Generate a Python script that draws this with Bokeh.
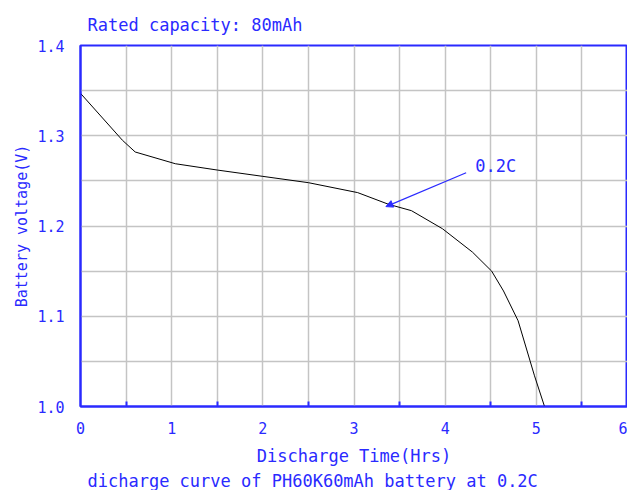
from bokeh.plotting import figure
from bokeh.models import Label, Arrow, NormalHead, FixedTicker, Range1d, Title, CustomJSTickFormatter
from bokeh.embed import file_html
from bokeh.resources import INLINE

hours = [0, 0.46, 0.6, 1.04, 1.5, 2.0, 2.5, 3.04, 3.38, 3.63, 3.97, 4.3, 4.51, 4.64, 4.8, 4.98, 5.09]
volts = [1.347, 1.295, 1.282, 1.269, 1.262, 1.255, 1.248, 1.237, 1.224, 1.217, 1.197, 1.171, 1.15, 1.128, 1.095, 1.034, 1.0]
x_ticks = [0, 1, 2, 3, 4, 5, 6]
x_minor = [0.5, 1.5, 2.5, 3.5, 4.5, 5.5]
y_ticks = [1.0, 1.1, 1.2, 1.3, 1.4]
y_minor = [1.05, 1.15, 1.25, 1.35]

BLUE = "#2a2aff"
FONT = "DejaVu Sans Mono"

p = figure(width=627, height=490, output_backend="svg", toolbar_location=None,
           x_range=Range1d(0, 6), y_range=Range1d(1.0, 1.4),
           min_border_left=80, min_border_right=0, min_border_top=45, min_border_bottom=84)

p.line(hours, volts, line_color="black", line_width=1)

p.xaxis[0].ticker = FixedTicker(ticks=x_ticks, minor_ticks=x_minor)
p.yaxis[0].ticker = FixedTicker(ticks=y_ticks, minor_ticks=y_minor)
for ax in (p.xaxis[0], p.yaxis[0]):
    ax.axis_line_color = BLUE
    ax.axis_line_width = 2
    ax.major_tick_line_color = None
    ax.major_label_text_color = BLUE
    ax.major_label_text_font = FONT
    ax.major_label_text_font_size = "15px"
    ax.axis_label_text_color = BLUE
    ax.axis_label_text_font = FONT
    ax.axis_label_text_font_style = "normal"
    ax.axis_label_text_font_size = "17px"

p.xaxis.minor_tick_in = 5
p.xaxis.minor_tick_out = 0
p.xaxis.minor_tick_line_color = BLUE
p.xaxis.minor_tick_line_width = 2
p.yaxis.minor_tick_line_color = None
p.yaxis.formatter = CustomJSTickFormatter(code="return tick.toFixed(1)")

p.xaxis.axis_label = "Discharge Time(Hrs)"
p.xaxis.major_label_standoff = 9
p.xaxis.axis_label_standoff = 9
p.yaxis.axis_label = "Battery voltage(V)"
p.yaxis.axis_label_text_font_size = "15px"
p.yaxis.major_label_standoff = 10
p.yaxis.axis_label_standoff = 3

for g in (p.xgrid[0], p.ygrid[0]):
    g.grid_line_color = "#c4c4c4"
    g.grid_line_width = 1.5
    g.minor_grid_line_color = "#c4c4c4"
    g.minor_grid_line_width = 1.5

p.outline_line_color = BLUE
p.outline_line_width = 2
p.outline_line_alpha = 1

p.add_layout(Title(text="Rated capacity: 80mAh", align="left", offset=7, standoff=22,
                   text_color=BLUE, text_font=FONT, text_font_size="17px",
                   text_font_style="normal"), "above")
p.add_layout(Title(text="dicharge curve of PH60K60mAh battery at 0.2C", align="left", offset=7, standoff=0,
                   text_color=BLUE, text_font=FONT, text_font_size="17px",
                   text_font_style="normal"), "below")
p.add_layout(Label(x=4.33, y=1.267, text="0.2C", text_color=BLUE,
                   text_font=FONT, text_font_size="17px", text_baseline="middle"))
p.add_layout(Arrow(x_start=4.23, y_start=1.259, x_end=3.35, y_end=1.2215,
                   line_color=BLUE, line_width=1.2,
                   end=NormalHead(size=7, line_color=BLUE, fill_color=BLUE)))

open("out.html", "w").write(file_html(p, INLINE))
